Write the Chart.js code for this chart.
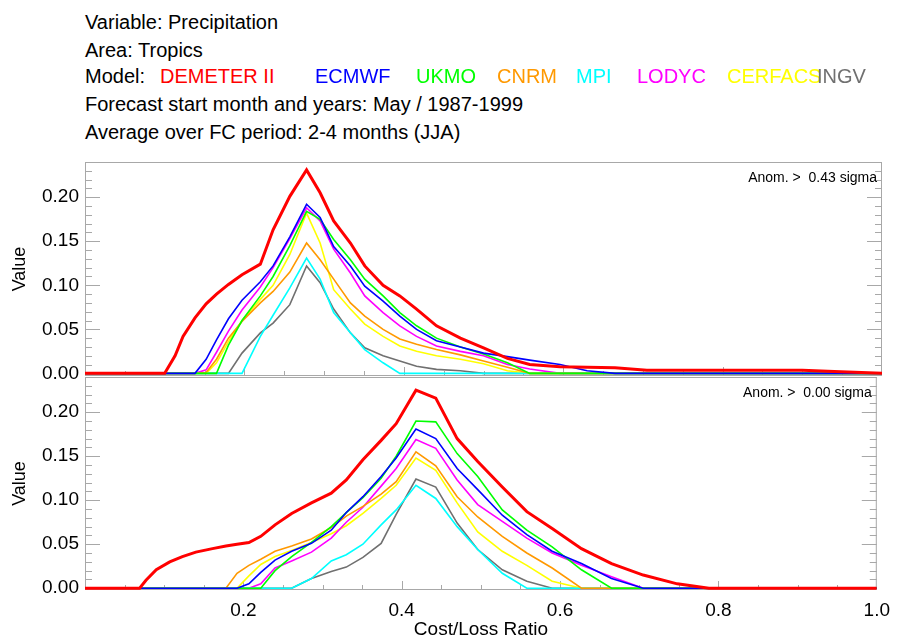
<!DOCTYPE html>
<html>
<head>
<meta charset="utf-8">
<script src="https://cdn.jsdelivr.net/npm/chart.js@4.4.1/dist/chart.umd.min.js"></script>
<style>
  body { margin: 0; width: 899px; height: 641px; background: #fff; position: relative; overflow: hidden; font-family: "Liberation Sans", Arial, sans-serif; }
  .hdr { position: absolute; left: 85px; font-size: 20px; line-height: 20px; color: #000; white-space: pre; }
  .hdr span { position: absolute; top: 0; }
  canvas { position: absolute; left: 0; top: 0; }
</style>
</head>
<body>
<div id="header"></div>
<canvas id="top-chart" width="899" height="641"></canvas>
<canvas id="bottom-chart" width="899" height="641"></canvas>
<script>
// header texts
const headerLines = [
  'Variable: Precipitation',
  'Area: Tropics',
  'Model:',
  'Forecast start month and years: May / 1987-1999',
  'Average over FC period: 2-4 months (JJA)',
];
const modelNames = ['DEMETER II', 'ECMWF', 'UKMO', 'CNRM', 'MPI', 'LODYC', 'CERFACS', 'INGV'];
const modelColors = ['#ff0000', '#0000ff', '#00ff00', '#ff9900', '#00ffff', '#ff00ff', '#ffff00', '#707070'];
const panelLabels = ['Anom. >  0.43 sigma', 'Anom. >  0.00 sigma'];

const yTicks = [0, 0.05, 0.1, 0.15, 0.2];
const xTicks = [0.2, 0.4, 0.6, 0.8, 1.0];

// top panel: anomaly > 0.43 sigma
const topRatio = [0, 0.10, 0.113, 0.123, 0.138, 0.152, 0.165, 0.18, 0.197, 0.22, 0.236, 0.257, 0.278, 0.295, 0.312, 0.333, 0.351, 0.374, 0.395, 0.416, 0.441, 0.471, 0.50, 0.53, 0.558, 0.596, 0.63, 0.665, 0.705, 0.80, 0.90, 0.94, 1.0];
const topDemeter = [0, 0, 0.020, 0.042, 0.063, 0.079, 0.090, 0.101, 0.112, 0.124, 0.163, 0.201, 0.231, 0.205, 0.173, 0.148, 0.122, 0.100, 0.088, 0.073, 0.054, 0.040, 0.029, 0.017, 0.010, 0.0076, 0.007, 0.0065, 0.0034, 0.0034, 0.0034, 0.002, 0];
const topEcmwf = [0, 0, 0, 0, 0, 0.016, 0.038, 0.062, 0.083, 0.104, 0.122, 0.155, 0.192, 0.177, 0.144, 0.122, 0.099, 0.082, 0.065, 0.050, 0.037, 0.030, 0.023, 0.019, 0.015, 0.010, 0.003, 0, 0, 0, 0, 0, 0];
const topUkmo = [0, 0, 0, 0, 0, 0, 0, 0.032, 0.060, 0.088, 0.110, 0.145, 0.184, 0.175, 0.152, 0.129, 0.107, 0.088, 0.069, 0.054, 0.040, 0.030, 0.022, 0.012, 0, 0, 0, 0, 0, 0, 0, 0, 0];
const topCnrm = [0, 0, 0, 0, 0, 0.001, 0.016, 0.040, 0.059, 0.080, 0.093, 0.115, 0.148, 0.129, 0.107, 0.080, 0.065, 0.050, 0.039, 0.033, 0.027, 0.021, 0.014, 0.007, 0, 0, 0, 0, 0, 0, 0, 0, 0];
const topMpi = [0, 0, 0, 0, 0, 0, 0, 0, 0, 0.042, 0.066, 0.097, 0.131, 0.107, 0.069, 0.046, 0.027, 0.012, 0, 0, 0, 0, 0, 0, 0, 0, 0, 0, 0, 0, 0, 0, 0];
const topLodyc = [0, 0, 0, 0, 0, 0.004, 0.024, 0.048, 0.072, 0.098, 0.120, 0.153, 0.188, 0.173, 0.141, 0.114, 0.088, 0.069, 0.054, 0.042, 0.031, 0.025, 0.020, 0.010, 0.005, 0, 0, 0, 0, 0, 0, 0, 0];
const topCerfacs = [0, 0, 0, 0, 0, 0, 0.012, 0.036, 0.060, 0.084, 0.100, 0.135, 0.182, 0.148, 0.095, 0.073, 0.056, 0.042, 0.031, 0.025, 0.020, 0.016, 0.011, 0.003, 0, 0, 0, 0, 0, 0, 0, 0, 0];
const topIngv = [0, 0, 0, 0, 0, 0, 0, 0, 0.023, 0.046, 0.057, 0.078, 0.122, 0.103, 0.073, 0.046, 0.029, 0.020, 0.014, 0.008, 0.0045, 0.003, 0, 0, 0, 0, 0, 0, 0, 0, 0, 0, 0];

// bottom panel: anomaly > 0.00 sigma
const botRatio = [0, 0.069, 0.077, 0.090, 0.107, 0.123, 0.140, 0.161, 0.178, 0.192, 0.207, 0.222, 0.240, 0.261, 0.286, 0.311, 0.330, 0.351, 0.374, 0.393, 0.418, 0.443, 0.470, 0.496, 0.527, 0.558, 0.590, 0.627, 0.665, 0.705, 0.748, 0.788, 1.0];
const botDemeter = [0, 0, 0.009, 0.021, 0.030, 0.036, 0.041, 0.045, 0.048, 0.050, 0.052, 0.059, 0.072, 0.085, 0.097, 0.108, 0.123, 0.146, 0.168, 0.187, 0.225, 0.216, 0.170, 0.144, 0.115, 0.087, 0.068, 0.045, 0.028, 0.015, 0.005, 0, 0];
const botEcmwf = [0, 0, 0, 0, 0, 0, 0, 0, 0, 0, 0.005, 0.018, 0.032, 0.042, 0.051, 0.066, 0.086, 0.104, 0.127, 0.148, 0.181, 0.170, 0.136, 0.112, 0.083, 0.061, 0.042, 0.028, 0.011, 0, 0, 0, 0];
const botUkmo = [0, 0, 0, 0, 0, 0, 0, 0, 0, 0, 0, 0, 0.020, 0.036, 0.052, 0.070, 0.086, 0.103, 0.125, 0.150, 0.190, 0.189, 0.153, 0.127, 0.089, 0.066, 0.047, 0.021, 0, 0, 0, 0, 0];
const botCnrm = [0, 0, 0, 0, 0, 0, 0, 0, 0, 0.017, 0.026, 0.033, 0.042, 0.048, 0.056, 0.069, 0.082, 0.093, 0.107, 0.121, 0.155, 0.139, 0.104, 0.081, 0.059, 0.040, 0.023, 0, 0, 0, 0, 0, 0];
const botMpi = [0, 0, 0, 0, 0, 0, 0, 0, 0, 0, 0, 0, 0, 0, 0.011, 0.031, 0.038, 0.050, 0.072, 0.089, 0.117, 0.102, 0.070, 0.044, 0.017, 0, 0, 0, 0, 0, 0, 0, 0];
const botLodyc = [0, 0, 0, 0, 0, 0, 0, 0, 0, 0, 0, 0.005, 0.023, 0.031, 0.041, 0.057, 0.075, 0.092, 0.116, 0.136, 0.169, 0.159, 0.123, 0.095, 0.076, 0.057, 0.040, 0.026, 0.013, 0, 0, 0, 0];
const botCerfacs = [0, 0, 0, 0, 0, 0, 0, 0, 0, 0, 0.014, 0.027, 0.036, 0.043, 0.052, 0.062, 0.071, 0.085, 0.102, 0.117, 0.148, 0.134, 0.097, 0.064, 0.042, 0.026, 0.008, 0, 0, 0, 0, 0, 0];
const botIngv = [0, 0, 0, 0, 0, 0, 0, 0, 0, 0, 0, 0, 0, 0, 0.011, 0.019, 0.024, 0.035, 0.051, 0.084, 0.124, 0.115, 0.074, 0.044, 0.021, 0.008, 0, 0, 0, 0, 0, 0, 0];

const topSeries = [topDemeter, topEcmwf, topUkmo, topCnrm, topMpi, topLodyc, topCerfacs, topIngv];
const botSeries = [botDemeter, botEcmwf, botUkmo, botCnrm, botMpi, botLodyc, botCerfacs, botIngv];

// header
const header = document.getElementById('header');
const lineTops = [12, 40, 66, 94, 122];
const nameLeft = [75, 230, 331, 412, 491, 552, 642, 732];
headerLines.forEach((txt, i) => {
  const d = document.createElement('div');
  d.className = 'hdr';
  d.style.top = lineTops[i] + 'px';
  d.textContent = txt;
  if (i === 2) {
    modelNames.forEach((n, k) => {
      const s = document.createElement('span');
      s.textContent = n;
      s.style.left = nameLeft[k] + 'px';
      s.style.color = modelColors[k];
      s.style.zIndex = k;
      d.appendChild(s);
    });
  }
  header.appendChild(d);
});

const axisGrey = '#a8a8a8';
const font = 'Liberation Sans';

const frameTicks = {
  id: 'frameTicks',
  beforeDatasetsDraw(chart, args, opts) {
    const { ctx, chartArea: a, scales: { x, y } } = chart;
    ctx.save();
    ctx.strokeStyle = axisGrey;
    ctx.lineWidth = 1;
    ctx.strokeRect(a.left + 0.5, a.top + 0.5, a.width - 1, a.height - 1);
    ctx.beginPath();
    for (let k = 0; k <= 24; k++) {
      const py = Math.round(y.getPixelForValue(k / 100)) + 0.5;
      const len = k % 5 === 0 ? 15 : 7;
      ctx.moveTo(a.left, py); ctx.lineTo(a.left + len, py);
      ctx.moveTo(a.right, py); ctx.lineTo(a.right - len, py);
    }
    for (let k = 1; k < 20; k++) {
      const px = Math.round(x.getPixelForValue(k / 20)) + 0.5;
      const len = k % 4 === 0 ? 9 : 5;
      ctx.moveTo(px, a.bottom); ctx.lineTo(px, a.bottom - len);
    }
    ctx.stroke();
    ctx.fillStyle = '#000';
    ctx.font = '14px "' + font + '"';
    ctx.textAlign = 'right';
    ctx.textBaseline = 'alphabetic';
    ctx.fillText(opts.label, a.right - 5, a.top + 20);
    ctx.restore();
  }
};

function buildPanel(id, ratio, series, label, pad, yMin, showX) {
  const datasets = series.map((vals, i) => ({
    label: modelNames[i],
    data: ratio.map((r, j) => ({ x: r, y: vals[j] })),
    borderColor: modelColors[i],
    borderWidth: i === 0 ? 3 : 1.6,
    pointRadius: 0,
    tension: 0,
    fill: false,
  }));

  new Chart(document.getElementById(id), {
    type: 'line',
    data: { datasets: datasets },
    options: {
      responsive: false,
      animation: false,
      layout: { padding: pad },
      scales: {
        x: {
          type: 'linear',
          display: showX,
          min: 0,
          max: 1,
          grid: { display: false, drawTicks: false },
          border: { display: false },
          afterBuildTicks: (s) => { s.ticks = xTicks.map((v) => ({ value: v })); },
          afterFit: (s) => { s.height = showX ? 51 : 0; },
          ticks: {
            padding: 9,
            maxRotation: 0,
            autoSkip: false,
            color: '#000',
            font: { family: font, size: 19 },
            callback: (v) => v.toFixed(1),
          },
          title: {
            display: true,
            text: 'Cost/Loss Ratio',
            color: '#000',
            font: { family: font, size: 19 },
            padding: { top: 0, bottom: 0 },
          },
        },
        y: {
          type: 'linear',
          min: yMin,
          max: 0.24,
          grid: { display: false, drawTicks: false },
          border: { display: false },
          afterBuildTicks: (s) => { s.ticks = yTicks.map((v) => ({ value: v })); },
          afterFit: (s) => { s.width = 85; },
          ticks: {
            padding: 6,
            color: '#000',
            font: { family: font, size: 19 },
            callback: (v) => v.toFixed(2),
          },
          title: {
            display: true,
            text: 'Value',
            color: '#000',
            font: { family: font, size: 18 },
            padding: { top: 9, bottom: 0 },
          },
        },
      },
      plugins: {
        legend: { display: false },
        tooltip: { enabled: false },
        frameTicks: { label: label },
      },
    },
    plugins: [frameTicks],
  });
}

buildPanel('top-chart', topRatio, topSeries, panelLabels[0], { top: 162, bottom: 265, left: 0, right: 17 }, -0.003, false);
buildPanel('bottom-chart', botRatio, botSeries, panelLabels[1], { top: 377, bottom: 0, left: 0, right: 17 }, -0.002, true);
</script>
</body>
</html>
